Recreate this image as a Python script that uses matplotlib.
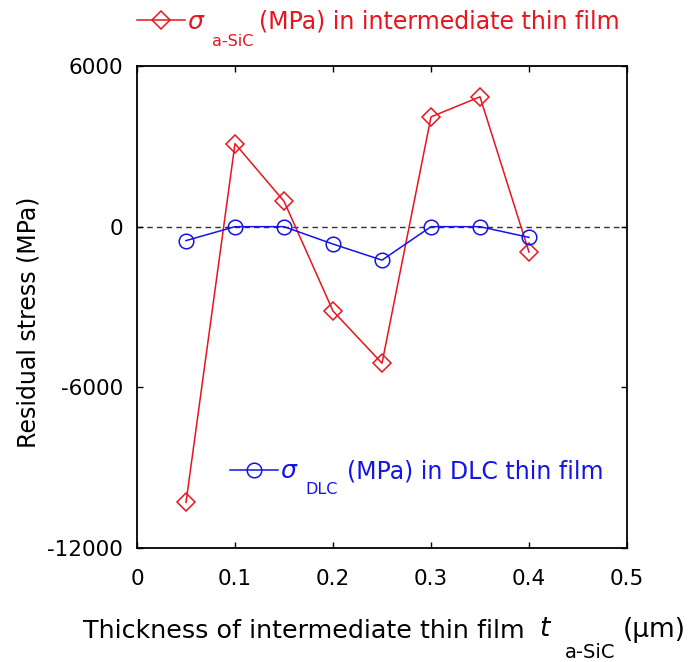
import matplotlib
matplotlib.use("Agg")
import matplotlib.pyplot as plt
from matplotlib.lines import Line2D

# ── Data ──────────────────────────────────────────────────────────────────────
thickness = [0.05, 0.10, 0.15, 0.20, 0.25, 0.30, 0.35, 0.40]
sigma_asic = [-10300, 3100, 950, -3150, -5100, 4100, 4850, -950]
sigma_dlc = [-520, 0, 0, -650, -1250, 0, 0, -400]

x_ticks = [0, 0.1, 0.2, 0.3, 0.4, 0.5]
x_tick_labels = ["0", "0.1", "0.2", "0.3", "0.4", "0.5"]
y_ticks = [-12000, -6000, 0, 6000]
y_tick_labels = ["-12000", "-6000", "0", "6000"]

RED = "#e8141e"
BLUE = "#1414e6"

W, H = 690, 662
fig = plt.figure(figsize=(W / 100, H / 100), dpi=100)
ax = fig.add_axes([137 / W, 1 - 548 / H, 490 / W, 482 / H])


def fx(px):
    return px / W


def fy(py):
    return 1 - py / H


ax.axhline(0, color="#333333", linestyle=(0, (4, 3)), linewidth=1.0, zorder=1)
ax.plot(thickness, sigma_asic, color=RED, linewidth=1.1, marker="D",
        markersize=9, markerfacecolor="none", markeredgecolor=RED,
        markeredgewidth=1.1, zorder=3)
ax.plot(thickness, sigma_dlc, color=BLUE, linewidth=1.1, marker="o",
        markersize=10.5, markerfacecolor="none", markeredgecolor=BLUE,
        markeredgewidth=1.1, zorder=3)

ax.set_xlim(0, 0.5)
ax.set_ylim(-12000, 6000)
ax.set_xticks(x_ticks)
ax.set_xticklabels(x_tick_labels)
ax.set_yticks(y_ticks)
ax.set_yticklabels(y_tick_labels)
ax.tick_params(direction="in", length=4, width=1.0, labelsize=15.5,
               top=True, right=True)
ax.tick_params(axis="x", pad=15)
ax.tick_params(axis="y", pad=10)
for s in ax.spines.values():
    s.set_linewidth(1.3)

fig.text(fx(29), fy(322), "Residual stress (MPa)", fontsize=17,
         rotation=90, ha="center", va="center")

# x label with subscript
fig.text(fx(83), fy(631), "Thickness of intermediate thin film",
         fontsize=18.3, ha="left", va="center")
fig.text(fx(539), fy(629), "t", fontsize=19, style="italic",
         ha="left", va="center")
fig.text(fx(565), fy(652), "a-SiC", fontsize=14, ha="left", va="center")
fig.text(fx(623), fy(630), "(\u03bcm)", fontsize=19, ha="left",
         va="center")

# legend entries drawn by hand
fig.add_artist(Line2D([fx(137), fx(185)], [fy(20), fy(20)], color=RED,
                      linewidth=1.1, transform=fig.transFigure))
fig.add_artist(Line2D([fx(161)], [fy(20)], marker="D", markersize=9,
                      markerfacecolor="none", markeredgecolor=RED,
                      markeredgewidth=1.1, linestyle="none",
                      transform=fig.transFigure))
fig.text(fx(187), fy(22), "\u03c3", fontsize=18, style="italic", color=RED,
         ha="left", va="center")
fig.text(fx(212), fy(42), "a-SiC", fontsize=11.5, color=RED,
         ha="left", va="center")
fig.text(fx(259), fy(22), "(MPa) in intermediate thin film", fontsize=17,
         color=RED, ha="left", va="center")

fig.add_artist(Line2D([fx(230), fx(278)], [fy(470), fy(470)], color=BLUE,
                      linewidth=1.1, transform=fig.transFigure))
fig.add_artist(Line2D([fx(254)], [fy(470)], marker="o", markersize=10.5,
                      markerfacecolor="none", markeredgecolor=BLUE,
                      markeredgewidth=1.1, linestyle="none",
                      transform=fig.transFigure))
fig.text(fx(280), fy(471), "\u03c3", fontsize=18, style="italic", color=BLUE,
         ha="left", va="center")
fig.text(fx(305), fy(490), "DLC", fontsize=11.5, color=BLUE,
         ha="left", va="center")
fig.text(fx(347), fy(471), "(MPa) in DLC thin film", fontsize=17,
         color=BLUE, ha="left", va="center")

fig.savefig("out.png", dpi=100)
